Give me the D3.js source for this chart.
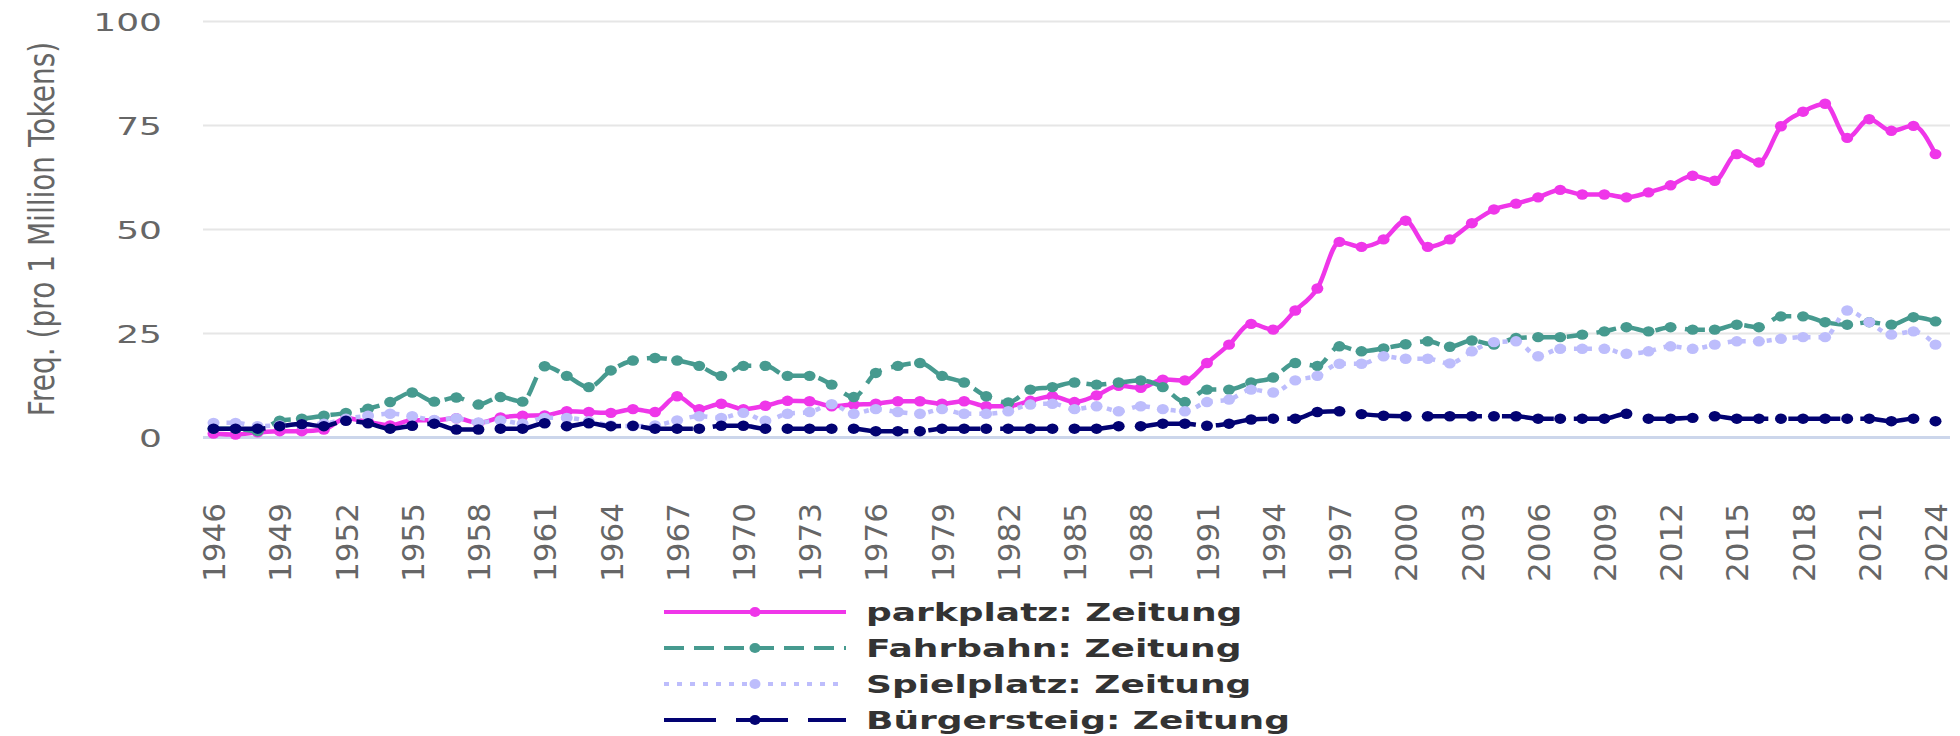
<!DOCTYPE html>
<html>
<head>
<meta charset="utf-8">
<script src="https://cdn.jsdelivr.net/npm/d3@7"></script>
<style>
  html, body { margin: 0; padding: 0; background: #fff; }
  svg { display: block; }
</style>
</head>
<body>
<svg id="chart" width="1960" height="736"></svg>
<script>
// ── Data ──────────────────────────────────────────────────────────────────
const years = d3.range(1946, 2025);
const xTicks = [1946, 1949, 1952, 1955, 1958, 1961, 1964, 1967, 1970, 1973, 1976, 1979, 1982,
  1985, 1988, 1991, 1994, 1997, 2000, 2003, 2006, 2009, 2012, 2015, 2018, 2021, 2024];
const yTicks = [0, 25, 50, 75, 100];

const parkplatz = [
  0.8, 0.6, 1.1, 1.4, 1.4, 1.8, 4.5, 3.6, 2.8, 4.0,
  4.0, 4.5, 3.4, 4.7, 5.1, 5.2, 6.2, 6.0, 5.8, 6.7,
  6.0, 9.8, 6.7, 8.0, 6.7, 7.5, 8.7, 8.6, 7.4, 7.8,
  8.0, 8.6, 8.6, 8.0, 8.6, 7.4, 7.4, 8.7, 9.8, 8.4,
  10.0, 12.3, 11.8, 13.8, 13.6, 17.8, 22.2, 27.2, 25.8, 30.4,
  35.7, 46.9, 45.7, 47.5, 52.0, 45.7, 47.5, 51.4, 54.7, 56.1,
  57.6, 59.4, 58.3, 58.3, 57.6, 58.8, 60.5, 62.8, 61.6, 68.0,
  66.0, 74.7, 78.2, 80.1, 71.9, 76.4, 73.6, 74.8, 68.0
];
const fahrbahn = [
  2.0, 2.0, 1.4, 3.9, 4.4, 5.1, 5.8, 6.8, 8.4, 10.7,
  8.5, 9.5, 7.8, 9.6, 8.5, 17.0, 14.7, 12.0, 16.0, 18.4,
  19.0, 18.4, 17.1, 14.7, 17.1, 17.1, 14.7, 14.7, 12.6, 9.6,
  15.4, 17.1, 17.8, 14.7, 13.1, 9.8, 8.3, 11.4, 12.0, 13.1,
  12.6, 13.1, 13.6, 12.0, 8.4, 11.4, 11.4, 13.1, 14.3, 17.8,
  17.1, 21.8, 20.6, 21.3, 22.3, 23.0, 21.7, 23.2, 22.2, 23.8,
  24.0, 24.0, 24.6, 25.4, 26.4, 25.4, 26.4, 25.8, 25.8, 27.0,
  26.4, 29.0, 29.0, 27.6, 27.0, 27.6, 27.0, 28.8, 27.8
];
const spielplatz = [
  3.4, 3.4, 2.6, 2.8, 3.0, 3.2, 4.4, 5.1, 5.6, 5.0,
  4.1, 4.5, 3.5, 4.0, 3.2, 4.6, 4.6, 3.8, 2.8, 2.6,
  2.8, 4.0, 5.0, 4.6, 5.8, 3.9, 5.6, 6.0, 7.9, 5.6,
  6.7, 6.0, 5.6, 6.7, 5.6, 5.6, 6.2, 7.8, 8.0, 6.7,
  7.4, 6.2, 7.4, 6.7, 6.2, 8.4, 9.0, 11.4, 10.7, 13.6,
  14.7, 17.6, 17.6, 19.4, 18.8, 18.8, 17.7, 20.6, 22.8, 23.0,
  19.4, 21.2, 21.2, 21.2, 20.0, 20.6, 21.8, 21.2, 22.2, 23.0,
  23.0, 23.6, 24.0, 24.0, 30.4, 27.6, 24.6, 25.4, 22.2
];
const buergersteig = [
  2.0, 2.0, 2.0, 2.6, 3.1, 2.6, 3.9, 3.3, 2.0, 2.7,
  3.2, 1.8, 1.8, 2.0, 2.0, 3.3, 2.6, 3.3, 2.6, 2.7,
  2.0, 2.0, 2.0, 2.7, 2.7, 2.0, 2.0, 2.0, 2.0, 2.0,
  1.4, 1.4, 1.4, 2.0, 2.0, 2.0, 2.0, 2.0, 2.0, 2.0,
  2.0, 2.6, 2.6, 3.2, 3.2, 2.7, 3.2, 4.2, 4.4, 4.4,
  6.0, 6.2, 5.5, 5.1, 5.0, 5.0, 5.0, 5.0, 5.0, 5.0,
  4.4, 4.4, 4.4, 4.4, 5.6, 4.4, 4.4, 4.6, 5.0, 4.4,
  4.4, 4.4, 4.4, 4.4, 4.4, 4.4, 3.8, 4.4, 3.8
];

const series = [
  { name: 'parkplatz: Zeitung',   values: parkplatz,    color: '#ef36e9', dash: null },
  { name: 'Fahrbahn: Zeitung',    values: fahrbahn,     color: '#469a8f', dash: '20,10' },
  { name: 'Spielplatz: Zeitung',  values: spielplatz,   color: '#bdbdfc', dash: '5,8' },
  { name: 'Bürgersteig: Zeitung', values: buergersteig, color: '#020272', dash: '52,20' },
];

// ── Layout ────────────────────────────────────────────────────────────────
const plot = { left: 203, right: 1950, top: 21, bottom: 437 };
const TEXT_STRETCH = 1.44;   // horizontal labels look widened in the reference

const svg = d3.select('#chart');

const x = d3.scaleLinear().domain([1946, 2024]).range([213.5, 1935.5]);
const y = d3.scaleLinear().domain([0, 100]).range([plot.bottom, plot.top]);

// stretch a text element horizontally via textLength
function widen(sel, k) {
  sel.each(function () {
    const w = this.getComputedTextLength();
    d3.select(this).attr('textLength', w * k).attr('lengthAdjust', 'spacingAndGlyphs');
  });
}

// ── Y axis + grid ─────────────────────────────────────────────────────────
const yAxis = svg.append('g')
  .attr('transform', `translate(${plot.left},0)`)
  .call(d3.axisLeft(y).tickValues(yTicks).tickSize(-(plot.right - plot.left)).tickPadding(41));

yAxis.select('.domain').remove();
yAxis.selectAll('.tick line')
  .attr('stroke', d => d === 0 ? '#ccd6eb' : '#e6e6e6')
  .attr('stroke-width', d => d === 0 ? 3 : 2);
yAxis.selectAll('.tick text')
  .attr('font-family', 'DejaVu Sans, sans-serif')
  .attr('font-size', 25)
  .attr('fill', '#666666')
  .attr('dy', '0.36em')
  .call(widen, TEXT_STRETCH);

// ── X axis (rotated year labels) ──────────────────────────────────────────
const xAxis = svg.append('g')
  .attr('transform', `translate(0,${plot.bottom})`)
  .call(d3.axisBottom(x).tickValues(xTicks).tickSize(0).tickFormat(d3.format('d')));

xAxis.select('.domain').remove();
xAxis.selectAll('.tick text')
  .attr('font-family', 'DejaVu Sans, sans-serif')
  .attr('font-size', 31)
  .attr('fill', '#666666')
  .attr('text-anchor', 'end')
  .attr('x', null)
  .attr('y', null)
  .attr('dy', '0.36em')
  .attr('transform', 'translate(0,66) rotate(-90)')
  .attr('textLength', 79)
  .attr('lengthAdjust', 'spacingAndGlyphs');

// ── Y title (glyphs thickened across the baseline) ────────────────────────
svg.append('text')
  .attr('transform', `translate(54,${(plot.top + plot.bottom) / 2}) rotate(-90) scale(1,1.25)`)
  .attr('text-anchor', 'middle')
  .attr('font-family', 'DejaVu Sans, sans-serif')
  .attr('font-size', 28)
  .attr('fill', '#666666')
  .text('Freq. (pro 1 Million Tokens)');

// ── Series ────────────────────────────────────────────────────────────────
const line = d3.line()
  .x((d, i) => x(years[i]))
  .y(d => y(d))
  .curve(d3.curveMonotoneX);

series.forEach(s => {
  const g = svg.append('g').attr('class', 'series');
  g.append('path')
    .attr('d', line(s.values))
    .attr('fill', 'none')
    .attr('stroke', s.color)
    .attr('stroke-width', 4.5)
    .attr('stroke-linejoin', 'round')
    .attr('stroke-linecap', s.dash ? 'butt' : 'round')
    .attr('stroke-dasharray', s.dash);
  g.selectAll('ellipse')
    .data(s.values).join('ellipse')
    .attr('cx', (d, i) => x(years[i]))
    .attr('cy', d => y(d))
    .attr('rx', 6)
    .attr('ry', 5.2)
    .attr('fill', s.color);
});

// ── Legend ────────────────────────────────────────────────────────────────
const legend = svg.append('g');
const legendRow = d3.scaleLinear().domain([0, 1]).range([612, 648]);

series.forEach((s, i) => {
  const item = legend.append('g').attr('transform', `translate(0,${legendRow(i)})`);
  item.append('line')
    .attr('x1', 664).attr('x2', 846)
    .attr('stroke', s.color)
    .attr('stroke-width', 4)
    .attr('stroke-dasharray', s.dash);
  item.append('ellipse')
    .attr('cx', 755).attr('rx', 5.5).attr('ry', 5)
    .attr('fill', s.color);
  item.append('text')
    .attr('x', 866)
    .attr('dy', '0.36em')
    .attr('font-family', 'DejaVu Sans, sans-serif')
    .attr('font-weight', 'bold')
    .attr('font-size', 25)
    .attr('fill', '#333333')
    .text(s.name)
    .call(widen, TEXT_STRETCH);
});
</script>
</body>
</html>
